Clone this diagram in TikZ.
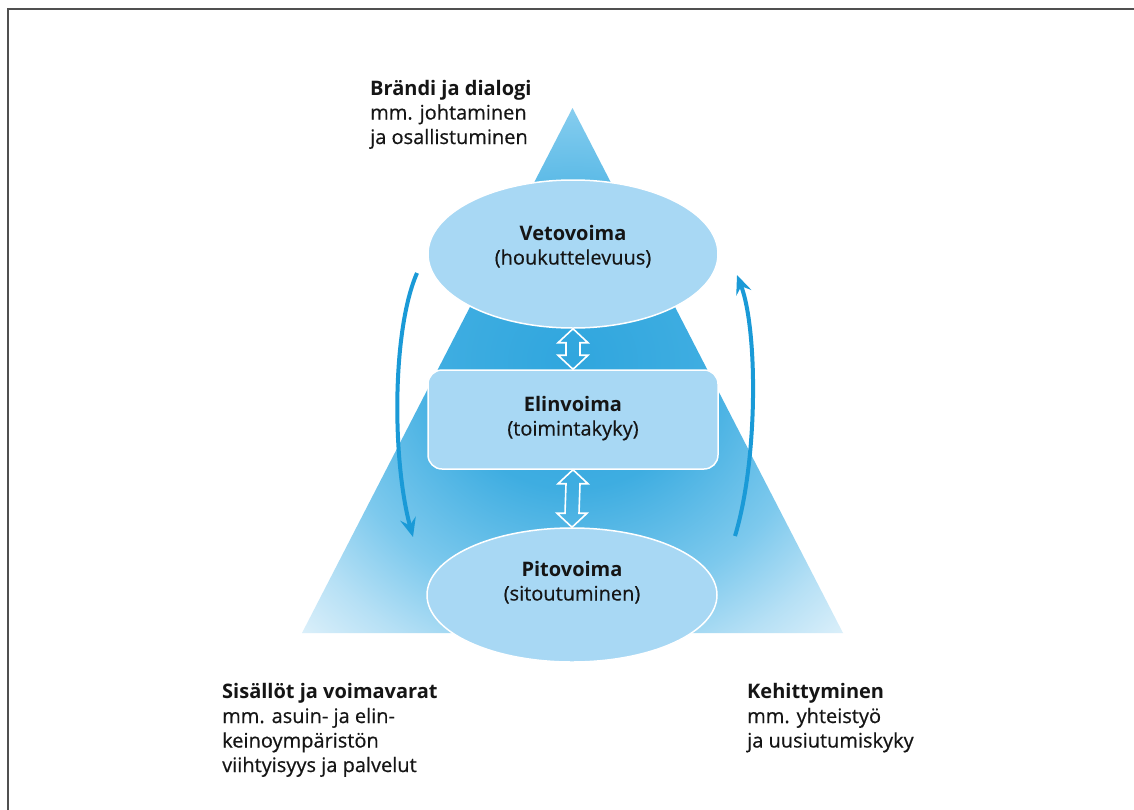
\documentclass[tikz,border=0pt]{standalone}
\usepackage{fontspec}
\setmainfont{Open Sans}[UprightFeatures={FakeBold=0.5}]
\usetikzlibrary{shapes.geometric,arrows.meta,calc}
\definecolor{txt}{HTML}{151515}
\definecolor{cfill}{HTML}{A8D8F4}
\definecolor{carrow}{HTML}{1A9AD7}
\definecolor{cframe}{HTML}{505050}
\definecolor{pA}{HTML}{30A6DE}
\definecolor{pB}{HTML}{3EADE1}
\definecolor{pC}{HTML}{7DC9ED}
\definecolor{pD}{HTML}{B6E0F5}
\definecolor{pE}{HTML}{EBF6FC}
\pgfdeclareradialshading{pyr}{\pgfpoint{0bp}{1bp}}{color(0bp)=(pA); color(12bp)=(pB); color(23bp)=(pC); color(30bp)=(pD); color(38bp)=(pE); color(50bp)=(pE)}
\begin{document}
\begin{tikzpicture}[x=1pt,y=-1pt,
  ell/.style={ellipse, fill=cfill, draw=white, line width=1.5pt, minimum width=290pt, inner sep=0pt},
  boxnode/.style={rectangle, rounded corners=14pt, fill=cfill, draw=white, line width=1.5pt, minimum width=290pt, minimum height=99pt, inner sep=0pt},
  lbl/.style={inner sep=0pt, text=txt, font=\fontsize{20}{24.5}\selectfont},
  dbl/.style={draw=white, line width=1.6pt, line join=miter},
  carr/.style={draw=carrow, line width=4pt, -{Stealth[length=19pt,width=16pt,inset=7pt]}}
]
\useasboundingbox (0,0) rectangle (1134,809);
\fill[white] (0,0) rectangle (1134,809);
\draw[cframe, line width=2pt] (8,815) -- (8,9) -- (1140,9);

% pyramid
\shade[shading=pyr] (302,633) -- (572.5,108) -- (843,633) -- cycle;

% main shapes
\node[ell, minimum height=148pt] (vet) at (573,254) {};
\node[boxnode] (elin) at (573,419.5) {};
\node[ell, minimum height=134pt] (pito) at (572,595) {};

% double arrows
\coordinate (a1t) at (vet.south);
\coordinate (a1b) at (elin.north);
\draw[dbl] (a1t) -- ++(15,14) -- ++(-8,0) -- ($(a1b)+(7,-14)$) -- ++(8,0) -- (a1b)
  -- ++(-15,-14) -- ++(8,0) -- ($(a1t)+(-7,14)$) -- ++(-8,0) -- cycle;
\coordinate (a2t) at (elin.south);
\coordinate (a2b) at (pito.north);
\draw[dbl] (a2t) -- ++(15,14) -- ++(-8,0) -- ($(a2b)+(7,-14)$) -- ++(8,0) -- (a2b)
  -- ++(-15,-14) -- ++(8,0) -- ($(a2t)+(-7,14)$) -- ++(-8,0) -- cycle;

% curved arrows
\coordinate (l1) at (417,273);
\coordinate (l2) at (413,537);
\draw[carr] (l1) .. controls (392,330) and (392,460) .. (l2);
\coordinate (r1) at (735,536);
\coordinate (r2) at (737,275);
\draw[carr] (r1) .. controls (758,460) and (758,330) .. (r2);

% labels in shapes
\node[lbl, anchor=base] (vett) at (573,240) {\begin{tabular}[t]{@{}c@{}}\textbf{Vetovoima}\\(houkuttelevuus)\end{tabular}};
\node[lbl, anchor=base] (elint) at (573,411) {\begin{tabular}[t]{@{}c@{}}\textbf{Elinvoima}\\(toimintakyky)\end{tabular}};
\node[lbl, anchor=base] (pitot) at (572,576) {\begin{tabular}[t]{@{}c@{}}\textbf{Pitovoima}\\(sitoutuminen)\end{tabular}};

% outer labels
\node[lbl, anchor=base west] (brandi) at (370,95) {\begin{tabular}[t]{@{}l@{}}\textbf{Brändi ja dialogi}\\mm. johtaminen\\ja osallistuminen\end{tabular}};
\node[lbl, anchor=base west] (sis) at (222,698.5) {\begin{tabular}[t]{@{}l@{}}\textbf{Sisällöt ja voimavarat}\\mm. asuin- ja elin-\\keinoympäristön\\viihtyisyys ja palvelut\end{tabular}};
\node[lbl, anchor=base west] (keh) at (747,698.5) {\begin{tabular}[t]{@{}l@{}}\textbf{Kehittyminen}\\mm. yhteistyö\\ja uusiutumiskyky\end{tabular}};
\end{tikzpicture}
\end{document}
